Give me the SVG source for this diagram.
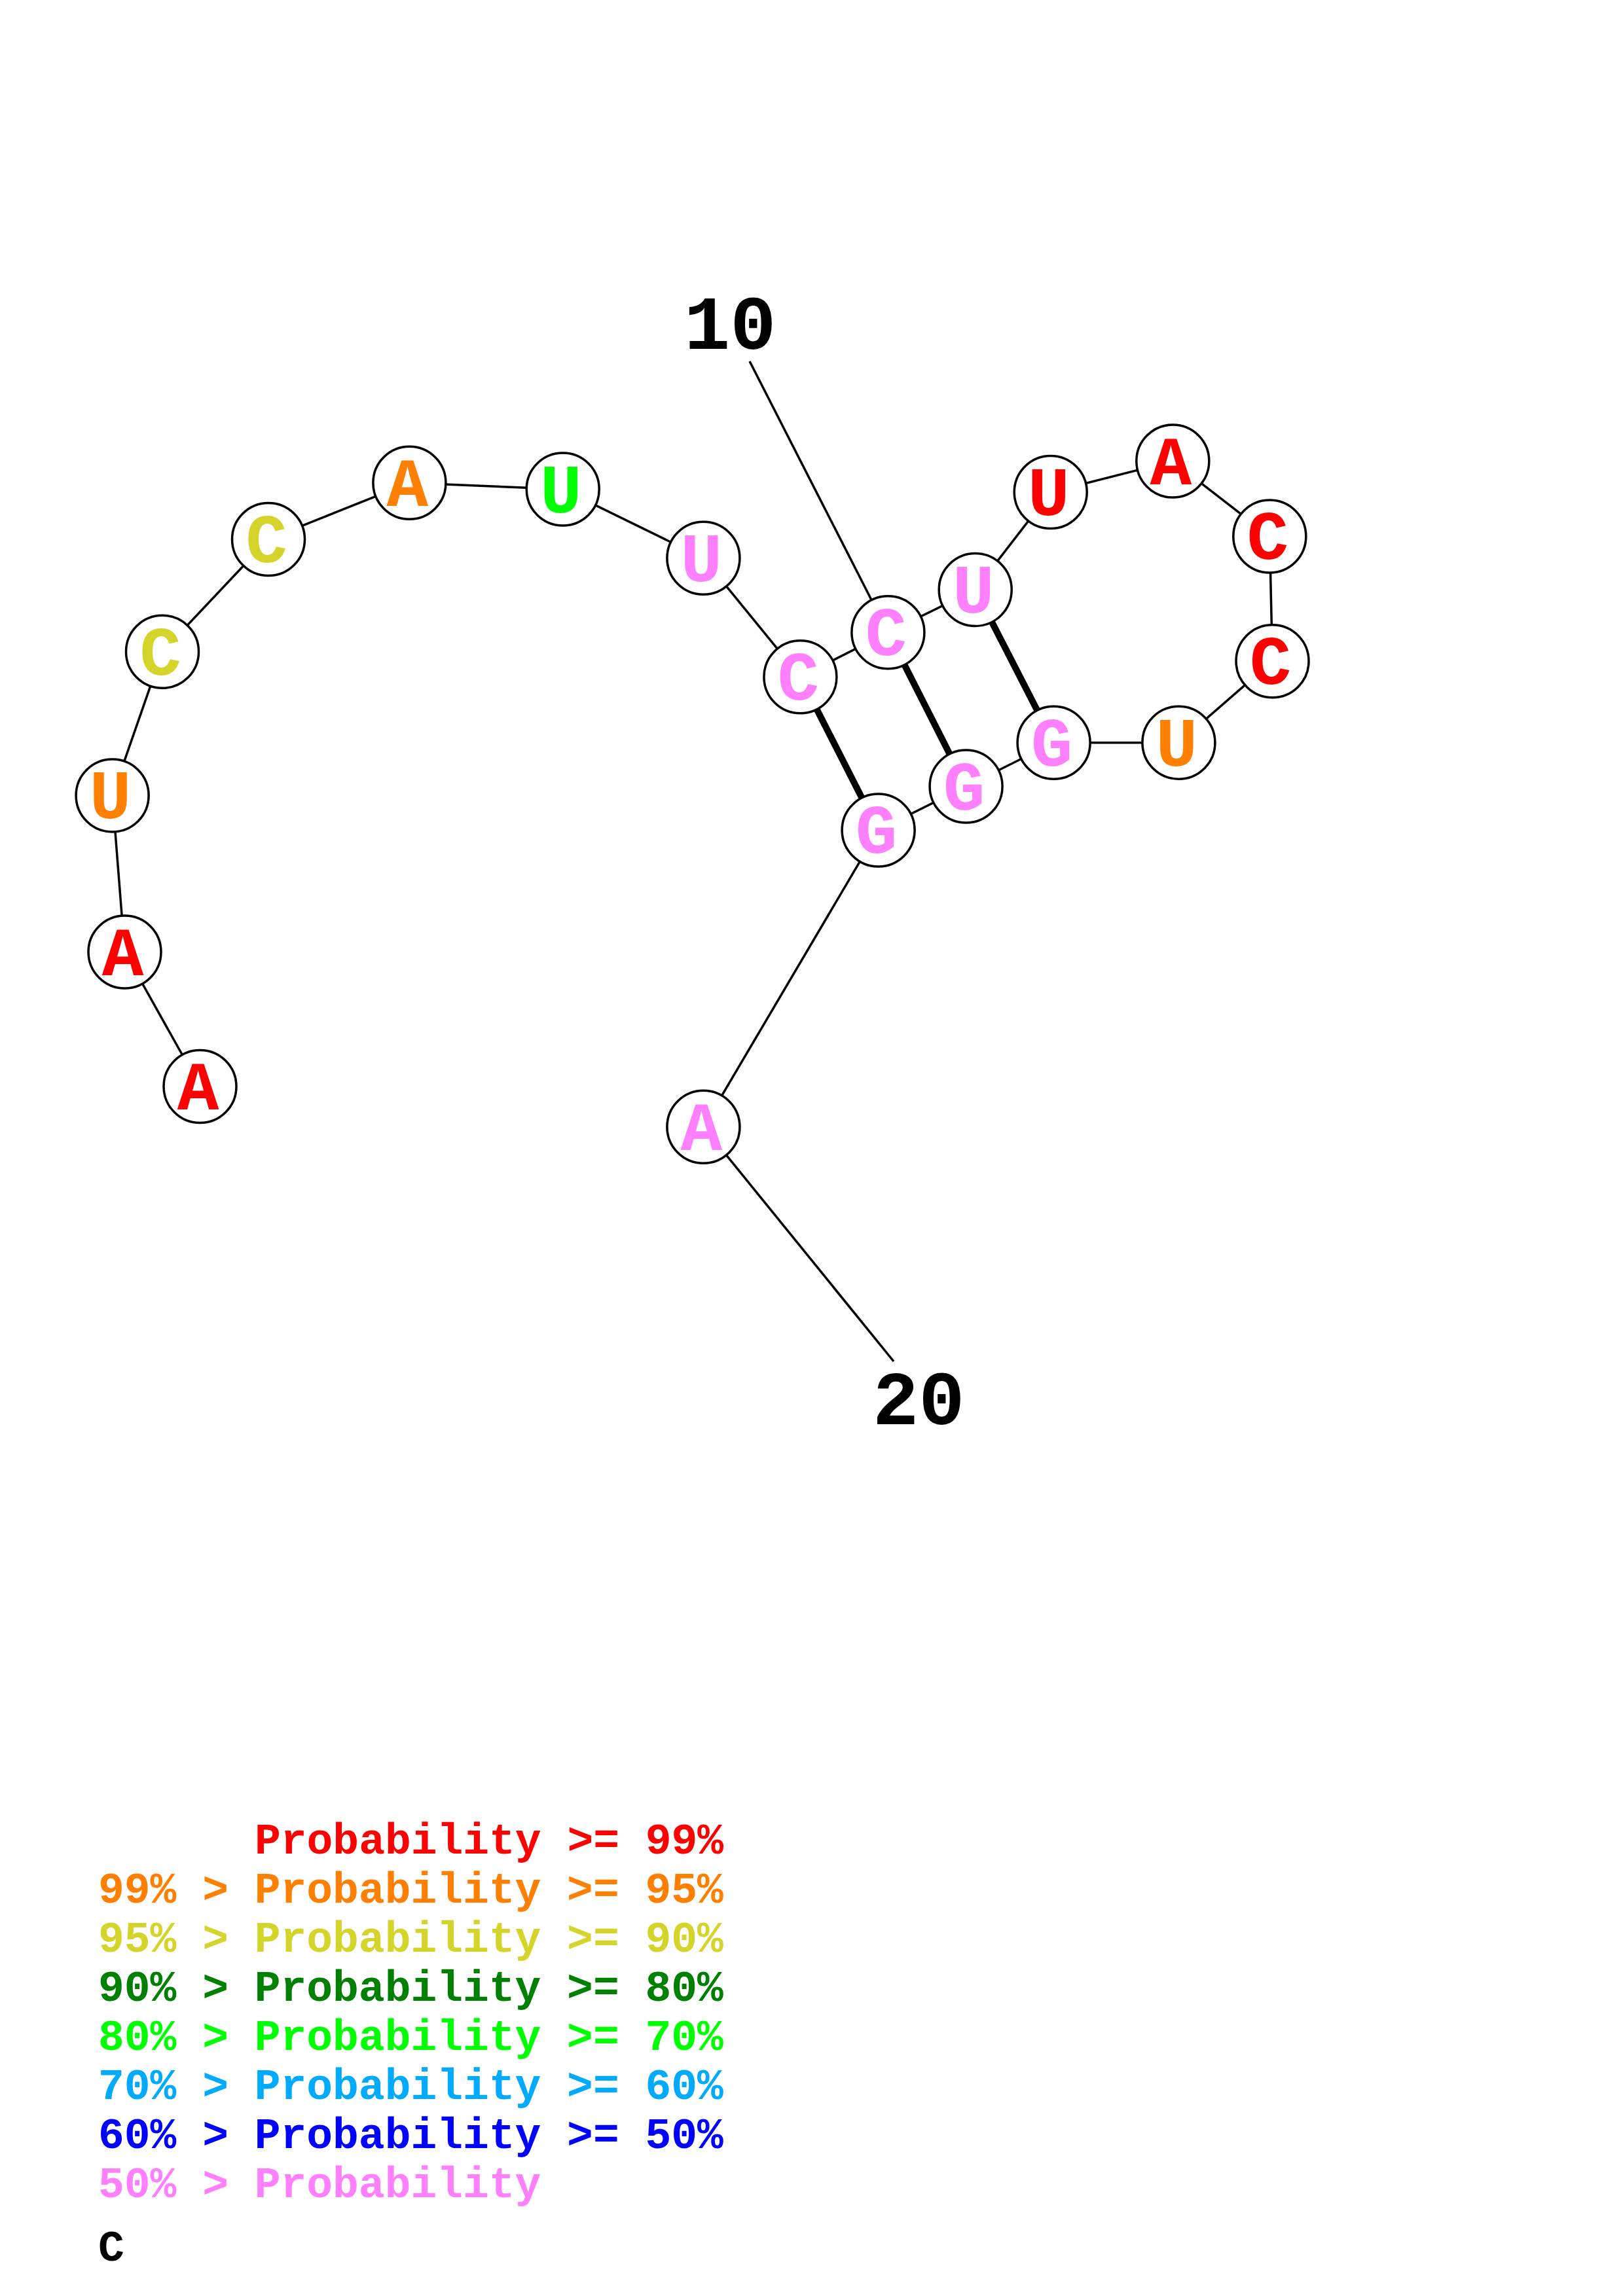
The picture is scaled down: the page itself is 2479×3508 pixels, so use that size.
<svg xmlns="http://www.w3.org/2000/svg" width="2479" height="3508" viewBox="0 0 2479 3508">
<style>
.bb{stroke:#000;stroke-width:3.5;fill:none}
.bp{stroke:#000;stroke-width:10;fill:none}
.nd circle{fill:#fff;stroke:#000;stroke-width:3.5}
.nd text{font-family:"Liberation Mono","Courier New",monospace;font-weight:bold;font-size:106px;text-anchor:middle}
.lb{font-family:"Liberation Mono","Courier New",monospace;font-weight:bold;font-size:117px;fill:#000}
.lg{font-family:"Liberation Mono","Courier New",monospace;font-weight:bold;font-size:66.3px;white-space:pre}
.r{fill:#FF0000}.o{fill:#FF8000}.y{fill:#D4D42A}.dg{fill:#008000}.g{fill:#00FF00}.lbl{fill:#00AAFF}.b{fill:#0000FF}.p{fill:#FF80FF}
</style>
<rect width="2479" height="3508" fill="#fff"/>
<g id="connectors">
<polyline class="bb" points="305.5,1660 190.5,1454.6 171.6,1215.4 248,995.8 410,824 625.4,737.7 859.7,747.5 1074.4,852.7 1222.4,1034.2 1356.4,966.3 1489.7,901 1604.7,752 1791.3,704.6 1939.3,819.4 1943.5,1010.2 1800.4,1134.7 1609.6,1134.7 1475.6,1201.5 1341.6,1268.4 1074.4,1721.7"/>
<line class="bp" x1="1222.4" y1="1034.2" x2="1341.6" y2="1268.4"/>
<line class="bp" x1="1356.4" y1="966.3" x2="1475.6" y2="1201.5"/>
<line class="bp" x1="1489.7" y1="901" x2="1609.6" y2="1134.7"/>
<line class="bb" x1="1145" y1="552" x2="1356.4" y2="966.3"/>
<line class="bb" x1="1074.4" y1="1721.7" x2="1365" y2="2080"/>
</g>
<g id="n1" class="nd"><circle cx="305.5" cy="1660" r="55.5"/><text x="302.5" y="1695" class="r">A</text></g>
<g id="n2" class="nd"><circle cx="190.5" cy="1454.6" r="55.5"/><text x="187.5" y="1489.6" class="r">A</text></g>
<g id="n3" class="nd"><circle cx="171.6" cy="1215.4" r="55.5"/><text x="168.6" y="1250.4" class="o">U</text></g>
<g id="n4" class="nd"><circle cx="248" cy="995.8" r="55.5"/><text x="245" y="1030.8" class="y">C</text></g>
<g id="n5" class="nd"><circle cx="410" cy="824" r="55.5"/><text x="407" y="859" class="y">C</text></g>
<g id="n6" class="nd"><circle cx="625.4" cy="737.7" r="55.5"/><text x="622.4" y="772.7" class="o">A</text></g>
<g id="n7" class="nd"><circle cx="859.7" cy="747.5" r="55.5"/><text x="856.7" y="782.5" class="g">U</text></g>
<g id="n8" class="nd"><circle cx="1074.4" cy="852.7" r="55.5"/><text x="1071.4" y="887.7" class="p">U</text></g>
<g id="n9" class="nd"><circle cx="1222.4" cy="1034.2" r="55.5"/><text x="1219.4" y="1069.2" class="p">C</text></g>
<g id="n10" class="nd"><circle cx="1356.4" cy="966.3" r="55.5"/><text x="1353.4" y="1001.3" class="p">C</text></g>
<g id="n11" class="nd"><circle cx="1489.7" cy="901" r="55.5"/><text x="1486.7" y="936" class="p">U</text></g>
<g id="n12" class="nd"><circle cx="1604.7" cy="752" r="55.5"/><text x="1601.7" y="787" class="r">U</text></g>
<g id="n13" class="nd"><circle cx="1791.3" cy="704.6" r="55.5"/><text x="1788.3" y="739.6" class="r">A</text></g>
<g id="n14" class="nd"><circle cx="1939.3" cy="819.4" r="55.5"/><text x="1936.3" y="854.4" class="r">C</text></g>
<g id="n15" class="nd"><circle cx="1943.5" cy="1010.2" r="55.5"/><text x="1940.5" y="1045.2" class="r">C</text></g>
<g id="n16" class="nd"><circle cx="1800.4" cy="1134.7" r="55.5"/><text x="1797.4" y="1169.7" class="o">U</text></g>
<g id="n17" class="nd"><circle cx="1609.6" cy="1134.7" r="55.5"/><text x="1606.6" y="1169.7" class="p">G</text></g>
<g id="n18" class="nd"><circle cx="1475.6" cy="1201.5" r="55.5"/><text x="1472.6" y="1236.5" class="p">G</text></g>
<g id="n19" class="nd"><circle cx="1341.6" cy="1268.4" r="55.5"/><text x="1338.6" y="1303.4" class="p">G</text></g>
<g id="n20" class="nd"><circle cx="1074.4" cy="1721.7" r="55.5"/><text x="1071.4" y="1756.7" class="p">A</text></g>
<g id="labels">
<text class="lb" x="1045" y="533">10</text>
<text class="lb" x="1333" y="2176">20</text>
</g>
<g id="legend">
<text class="lg r" x="389" y="2832">Probability &gt;= 99%</text>
<text class="lg o" x="150" y="2907">99% &gt; Probability &gt;= 95%</text>
<text class="lg y" x="150" y="2982">95% &gt; Probability &gt;= 90%</text>
<text class="lg dg" x="150" y="3057">90% &gt; Probability &gt;= 80%</text>
<text class="lg g" x="150" y="3132">80% &gt; Probability &gt;= 70%</text>
<text class="lg lbl" x="150" y="3207">70% &gt; Probability &gt;= 60%</text>
<text class="lg b" x="150" y="3282">60% &gt; Probability &gt;= 50%</text>
<text class="lg p" x="150" y="3357">50% &gt; Probability</text>
<text class="lg" x="150" y="3454" fill="#000">C</text>
</g>
</svg>
